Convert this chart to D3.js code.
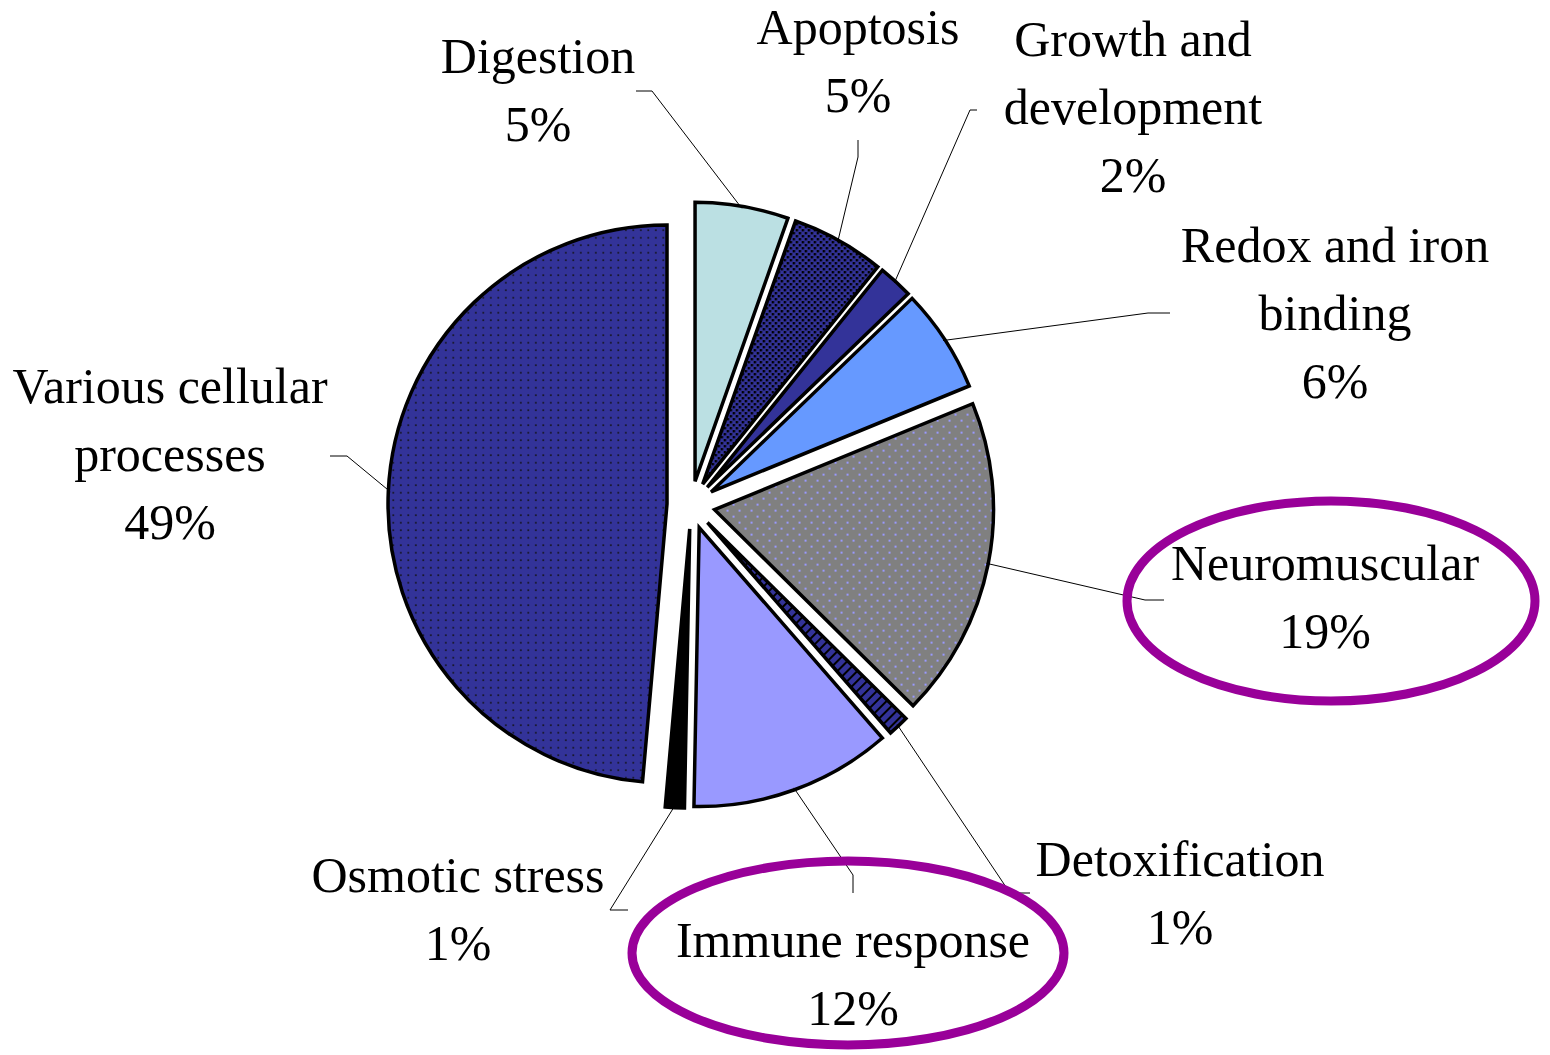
<!DOCTYPE html>
<html>
<head>
<meta charset="utf-8">
<script src="https://cdn.jsdelivr.net/npm/d3@7"></script>
<style>
  body { margin: 0; background: #fff; }
  svg { display: block; }
  text { font-family: "Liberation Serif", "Times New Roman", serif; font-size: 50px; fill: #000; }
</style>
</head>
<body>
<div id="container"></div>
<script>
// categories, clockwise from 12 o'clock
const categories = ["Digestion", "Apoptosis", "Growth and development", "Redox and iron binding",
  "Neuromuscular", "Detoxification", "Immune response", "Osmotic stress", "Various cellular processes"];
// share of genes, %
const values = [5.4, 5.4, 2.0, 6.0, 18.6, 1.2, 11.7, 1.1, 48.6];
// how each label is broken into lines
const labelLines = [
  ["Digestion"], ["Apoptosis"], ["Growth and", "development"], ["Redox and iron", "binding"],
  ["Neuromuscular"], ["Detoxification"], ["Immune response"], ["Osmotic stress"], ["Various cellular", "processes"]
];
const fills = ["#BBE0E3", "url(#dense)", "#333399", "#6699FF", "url(#greydots)",
  "url(#stripes)", "#9999FF", "#000000", "url(#sparse)"];

const width = 1550, height = 1055;
const cx = 691, cy = 505, radius = 279, explode = 24, lineH = 68;

// label placement: text centre x, first baseline, leader start and elbow
const labelPos = [
  { x: 538, y: 73, p0: [636, 91], p1: [652, 91] },
  { x: 858, y: 44, p0: [858, 140], p1: [858, 157] },
  { x: 1133, y: 56, p0: [977, 110], p1: [970, 110] },
  { x: 1335, y: 262, p0: [1170, 313], p1: [1148, 313] },
  { x: 1325, y: 580, p0: [1164, 600], p1: [1145, 600] },
  { x: 1180, y: 876, p0: [1030, 893], p1: [1010, 893] },
  { x: 853, y: 957, p0: [853, 893], p1: [853, 875] },
  { x: 458, y: 892, p0: [628, 910], p1: [610, 910] },
  { x: 170, y: 403, p0: [330, 456], p1: [347, 456] }
];
// purple rings round the two highlighted labels
const rings = [
  { cx: 1331, cy: 601, rx: 204, ry: 100 },
  { cx: 848, cy: 953, rx: 216, ry: 92 }
];

const svg = d3.select("#container").append("svg")
    .attr("width", width)
    .attr("height", height);

const defs = svg.append("defs");

let p = defs.append("pattern").attr("id", "sparse").attr("patternUnits", "userSpaceOnUse")
    .attr("width", 7.5).attr("height", 7.5);
p.append("rect").attr("width", 7.5).attr("height", 7.5).attr("fill", "#333399");
p.append("rect").attr("x", 3).attr("y", 3).attr("width", 1.6).attr("height", 1.6).attr("fill", "#111");

p = defs.append("pattern").attr("id", "dense").attr("patternUnits", "userSpaceOnUse")
    .attr("width", 6).attr("height", 6);
p.append("rect").attr("width", 6).attr("height", 6).attr("fill", "#333399");
p.append("rect").attr("x", 0).attr("y", 0).attr("width", 2.4).attr("height", 2.4).attr("fill", "#000");
p.append("rect").attr("x", 3).attr("y", 3).attr("width", 2.4).attr("height", 2.4).attr("fill", "#000");

p = defs.append("pattern").attr("id", "greydots").attr("patternUnits", "userSpaceOnUse")
    .attr("width", 12).attr("height", 12);
p.append("rect").attr("width", 12).attr("height", 12).attr("fill", "#808080");
p.append("rect").attr("x", 0).attr("y", 0).attr("width", 2).attr("height", 2).attr("fill", "#9999FF");
p.append("rect").attr("x", 6).attr("y", 6).attr("width", 2).attr("height", 2).attr("fill", "#9999FF");

p = defs.append("pattern").attr("id", "stripes").attr("patternUnits", "userSpaceOnUse")
    .attr("width", 7).attr("height", 7).attr("patternTransform", "rotate(45)");
p.append("rect").attr("width", 7).attr("height", 7).attr("fill", "#333399");
p.append("rect").attr("x", 0).attr("width", 2).attr("height", 7).attr("fill", "#000");

const pie = d3.pie().sort(null).value(d => d);
const arcs = pie(values);
const arc = d3.arc().innerRadius(0).outerRadius(radius);

function offset(d) {
  const a = (d.startAngle + d.endAngle) / 2;
  return [cx + explode * Math.sin(a), cy - explode * Math.cos(a)];
}

svg.append("g").selectAll("path")
  .data(arcs)
  .enter().append("path")
  .attr("transform", d => "translate(" + offset(d) + ")")
  .attr("d", arc)
  .attr("fill", (d, i) => fills[i])
  .attr("stroke", "#000")
  .attr("stroke-width", 3.5)
  .attr("stroke-linejoin", "miter");

// leader lines from label to the middle of each slice's rim
svg.append("g").selectAll("polyline")
  .data(arcs)
  .enter().append("polyline")
  .attr("fill", "none")
  .attr("stroke", "#000")
  .attr("stroke-width", 1)
  .attr("points", (d, i) => {
    const o = offset(d);
    const a = (d.startAngle + d.endAngle) / 2;
    const end = [o[0] + (radius - 2) * Math.sin(a), o[1] - (radius - 2) * Math.cos(a)];
    return [labelPos[i].p0, labelPos[i].p1, end].map(q => q.join(",")).join(" ");
  });

const labels = svg.append("g").selectAll("text")
  .data(arcs)
  .enter().append("text")
  .attr("text-anchor", "middle");

labels.each(function(d, i) {
  const lines = labelLines[i].concat([Math.round(values[i]) + "%"]);
  d3.select(this).selectAll("tspan")
    .data(lines)
    .enter().append("tspan")
    .attr("x", labelPos[i].x)
    .attr("y", (l, j) => labelPos[i].y + j * lineH)
    .text(l => l);
});

svg.append("g").selectAll("ellipse")
  .data(rings)
  .enter().append("ellipse")
  .attr("cx", d => d.cx)
  .attr("cy", d => d.cy)
  .attr("rx", d => d.rx)
  .attr("ry", d => d.ry)
  .attr("fill", "none")
  .attr("stroke", "#990099")
  .attr("stroke-width", 9);
</script>
</body>
</html>
